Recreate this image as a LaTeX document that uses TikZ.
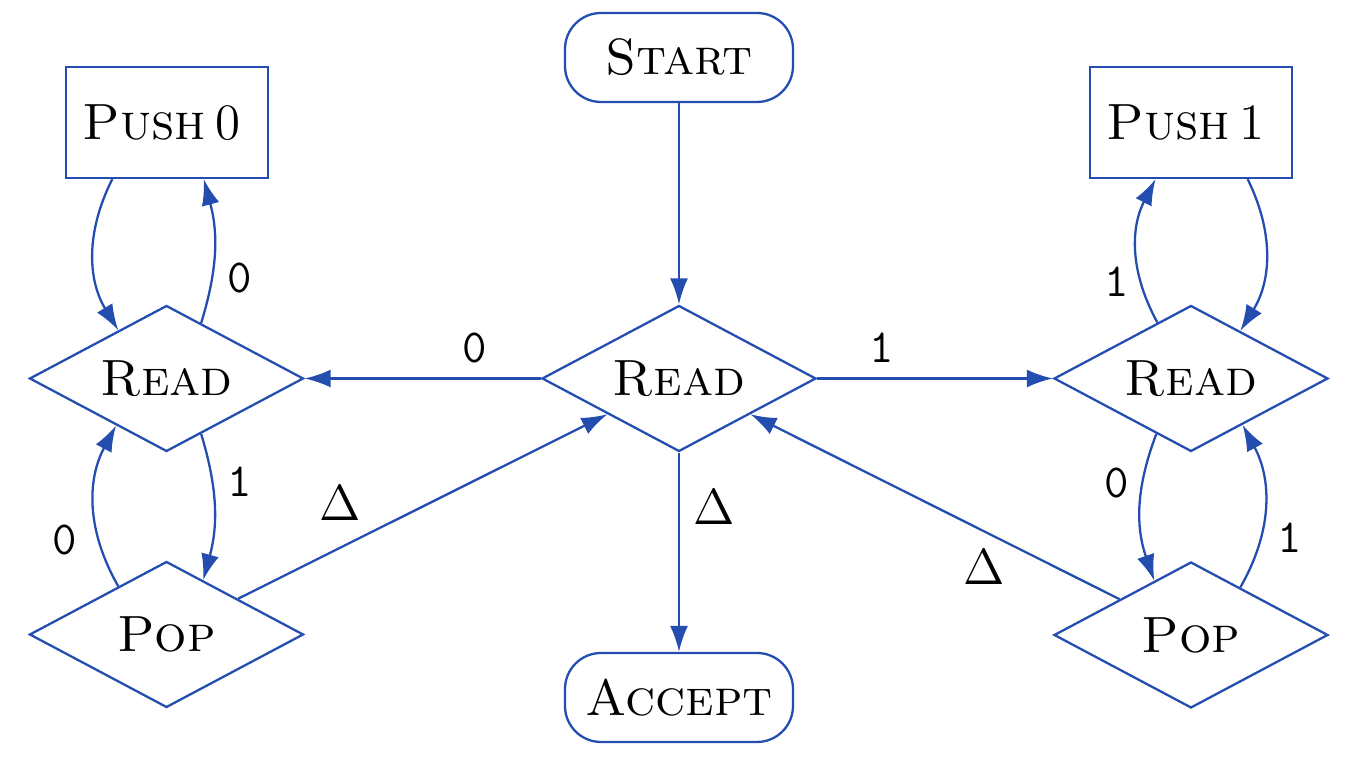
\documentclass[tikz,border=0pt]{standalone}
\usetikzlibrary{shapes.geometric,arrows.meta}
\definecolor{lineblue}{RGB}{35,78,175}
\begin{document}
\begin{tikzpicture}[
  x=1cm,y=1cm,
  every node/.style={font=\fontsize{14.5}{17}\selectfont},
  dia/.style={draw=lineblue, line width=0.65pt, diamond, aspect=1.878,
    minimum width=2.74cm, minimum height=1.46cm, inner sep=0pt},
  boxnode/.style={draw=lineblue, line width=0.65pt, rectangle,
    minimum width=2.02cm, minimum height=1.11cm, inner sep=0pt},
  term/.style={draw=lineblue, line width=0.65pt, rectangle, rounded corners=0.36cm,
    minimum width=2.28cm, minimum height=0.89cm, inner sep=0pt},
  arr/.style={draw=lineblue, line width=0.65pt,
    -{Latex[length=0.26cm,width=0.18cm]}},
  lbl/.style={font=\fontsize{13.5}{16}\selectfont\ttfamily, inner sep=0pt},
  dlbl/.style={font=\fontsize{14.5}{17}\selectfont, inner sep=0pt}
]
\fill[white] (0,0) rectangle (13.5,-7.66);
\useasboundingbox (0,0) rectangle (13.5,-7.66);

\node[term] (start) at (6.79,-0.575) {\textsc{Start}};
\node[dia] (readc) at (6.79,-3.785) {\textsc{Read}};
\node[dia] (readl) at (1.665,-3.785) {\textsc{Read}};
\node[dia] (readr) at (11.91,-3.785) {\textsc{Read}};
\node[boxnode] (push0) at (1.67,-1.225) {\textsc{Push}\kern2.8pt 0\kern3pt};
\node[boxnode] (push1) at (11.91,-1.225) {\textsc{Push}\kern2.8pt 1\kern3pt};
\node[dia] (popl) at (1.665,-6.345) {\textsc{Pop}};
\node[dia] (popr) at (11.91,-6.35) {\textsc{Pop}};
\node[term] (accept) at (6.79,-6.975) {\textsc{Accept}};

\draw[arr] (start) -- (readc);
\draw[arr] (readc) -- (readl);
\draw[arr] (readc) -- (readr);
\draw[arr] (readc) -- (accept);
\draw[arr] (popl) -- (readc);
\draw[arr] (popr) -- (readc);

\draw[arr] (push0.-134.7) to[bend right=29] (readl.135.9);
\draw[arr] (readl.58.4) to[bend right=16] (push0.-57.8);
\draw[arr] (readl.-58) to[bend left=16] (popl.56);
\draw[arr] (popl.135.9) to[bend left=29] (readl.-137.4);

\draw[arr] (readr.121.6) to[bend left=28] (push1.-122.2);
\draw[arr] (push1.-45.3) to[bend left=29] (readr.44.1);
\draw[arr] (readr.-122) to[bend right=20] (popr.124);
\draw[arr] (popr.44.1) to[bend right=29] (readr.-42.6);

\node[lbl] (l1) at (2.40,-2.78) {0};
\node[lbl] (l2) at (2.40,-4.82) {1};
\node[lbl] (l3) at (0.65,-5.40) {0};
\node[lbl] (l4) at (4.75,-3.48) {0};
\node[lbl] (l5) at (8.82,-3.48) {1};
\node[lbl] (l6) at (11.17,-2.82) {1};
\node[lbl] (l7) at (11.17,-4.83) {0};
\node[lbl] (l8) at (12.90,-5.38) {1};
\node[dlbl] (d1) at (3.40,-5.03) {$\Delta$};
\node[dlbl] (d2) at (7.14,-5.07) {$\Delta$};
\node[dlbl] (d3) at (9.84,-5.67) {$\Delta$};
\end{tikzpicture}
\end{document}
